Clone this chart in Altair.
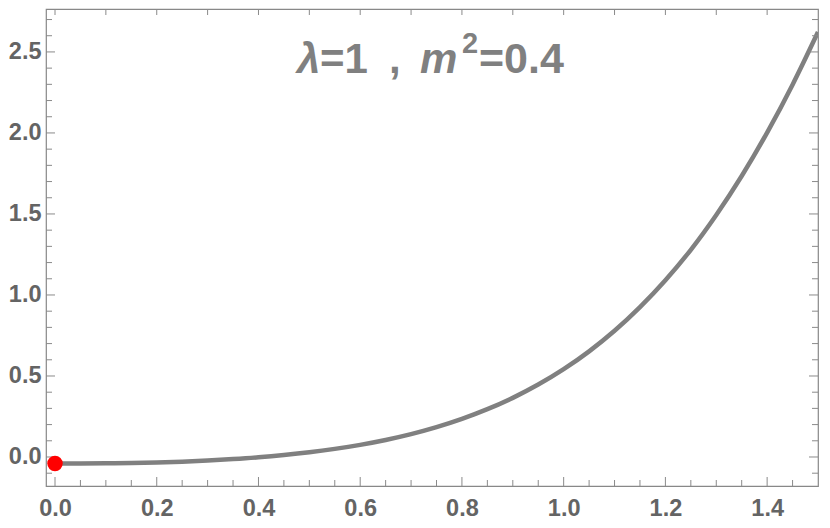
import altair as alt
import pandas as pd

# ---- data ----
x_vals = [0.00, 0.05, 0.10, 0.15, 0.20, 0.25, 0.30, 0.35, 0.40, 0.45, 0.50,
          0.55, 0.60, 0.65, 0.70, 0.75, 0.80, 0.85, 0.90, 0.95, 1.00,
          1.05, 1.10, 1.15, 1.20, 1.25, 1.30, 1.35, 1.40, 1.45, 1.50]
y_vals = [-0.040, -0.040, -0.039, -0.037, -0.034, -0.029, -0.022, -0.013, -0.002, 0.012, 0.029,
          0.050, 0.075, 0.105, 0.141, 0.184, 0.235, 0.295, 0.365, 0.447, 0.542,
          0.652, 0.779, 0.925, 1.091, 1.279, 1.494, 1.734, 2.002, 2.298, 2.623]
point_x = [0.0]
point_y = [-0.04]

x_major = [0.0, 0.2, 0.4, 0.6, 0.8, 1.0, 1.2, 1.4]
x_minor = [0.05, 0.10, 0.15, 0.25, 0.30, 0.35, 0.45, 0.50, 0.55, 0.65, 0.70, 0.75,
           0.85, 0.90, 0.95, 1.05, 1.10, 1.15, 1.25, 1.30, 1.35, 1.45]
x_top = [0.0, 0.1, 0.2, 0.3, 0.4, 0.5, 0.6, 0.7, 0.8, 0.9, 1.0, 1.1, 1.2, 1.3, 1.4]
y_major = [0.0, 0.5, 1.0, 1.5, 2.0, 2.5]
y_minor = [-0.1, 0.1, 0.2, 0.3, 0.4, 0.6, 0.7, 0.8, 0.9, 1.1, 1.2, 1.3, 1.4,
           1.6, 1.7, 1.8, 1.9, 2.1, 2.2, 2.3, 2.4, 2.6, 2.7]

title_parts = ["λ", "=1", ",", "m", "2", "=0.4"]

# ---- styling ----
W, H = 772, 477
FONT = "Liberation Sans"
LABEL_COLOR = "#646464"
TICK_COLOR = "#8a8a8a"
CURVE_COLOR = "#808080"

x_scale = alt.Scale(domain=[-0.0177, 1.5], nice=False, zero=False)
y_scale = alt.Scale(domain=[-0.179, 2.765], nice=False, zero=False)

x_axis = alt.Axis(values=x_major, format=".1f", ticks=False, tickSize=0, domain=False,
                  grid=False, title=None, labelFont=FONT, labelFontSize=23.5,
                  labelFontWeight="bold", labelColor=LABEL_COLOR, labelPadding=10)
y_axis = alt.Axis(values=y_major, format=".1f", ticks=False, tickSize=0, domain=False,
                  grid=False, title=None, labelFont=FONT, labelFontSize=23.5,
                  labelFontWeight="bold", labelColor=LABEL_COLOR, labelPadding=5)

curve_df = pd.DataFrame({"x": x_vals, "y": y_vals})
point_df = pd.DataFrame({"x": point_x, "y": point_y})

line = alt.Chart(curve_df).mark_line(
    color=CURVE_COLOR, strokeWidth=4.5, interpolate="monotone", clip=True
).encode(
    x=alt.X("x:Q", scale=x_scale, axis=x_axis),
    y=alt.Y("y:Q", scale=y_scale, axis=y_axis),
)

point = alt.Chart(point_df).mark_point(
    filled=True, color="#ff0000", size=240, opacity=1, shape="circle"
).encode(
    x=alt.X("x:Q", scale=x_scale, axis=x_axis),
    y=alt.Y("y:Q", scale=y_scale, axis=y_axis),
)


def xticks(vals, y0, y1):
    return alt.Chart(pd.DataFrame({"x": vals})).mark_rule(
        color=TICK_COLOR, strokeWidth=1
    ).encode(x=alt.X("x:Q", scale=x_scale, axis=x_axis), y=alt.value(y0), y2=alt.value(y1))


def yticks(vals, x0, x1):
    return alt.Chart(pd.DataFrame({"y": vals})).mark_rule(
        color=TICK_COLOR, strokeWidth=1
    ).encode(y=alt.Y("y:Q", scale=y_scale, axis=y_axis), x=alt.value(x0), x2=alt.value(x1))


ticks = [
    xticks(x_major, H, H - 9),
    xticks(x_minor, H, H - 6),
    xticks(x_top, 0, 6),
    yticks(y_major, 0, 9),
    yticks(y_minor, 0, 6),
    yticks(y_major, W, W - 9),
    yticks(y_minor, W, W - 6),
]


def title_piece(txt, x, y, size, italic):
    kw = dict(align="left", baseline="alphabetic", font=FONT, fontSize=size,
              fontWeight="bold", color=CURVE_COLOR)
    if italic:
        kw["fontStyle"] = "italic"
    return alt.Chart(pd.DataFrame({"t": [txt]})).mark_text(**kw).encode(
        x=alt.value(x), y=alt.value(y), text="t:N"
    )


titles = [
    title_piece(title_parts[0], 251, 64, 42, True),
    title_piece(title_parts[1], 274, 64, 42, False),
    title_piece(title_parts[2], 343, 64, 42, False),
    title_piece(title_parts[3], 374, 64, 42, True),
    title_piece(title_parts[4], 416, 44, 29, False),
    title_piece(title_parts[5], 433, 64, 43, False),
]

chart = alt.layer(line, *ticks, point, *titles).properties(
    width=W, height=H,
    padding={"left": 38, "top": 1, "right": 4, "bottom": 34},
    autosize=alt.AutoSizeParams(type="none"),
).configure_view(stroke="#888888", strokeWidth=1.2)

chart.save("out.html", embed_options={"renderer": "svg", "actions": False})
